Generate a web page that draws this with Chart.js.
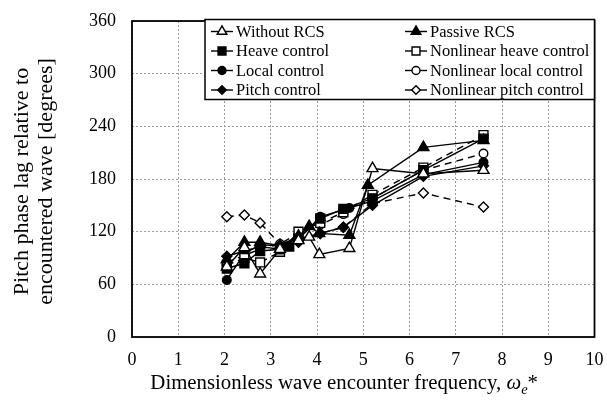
<!DOCTYPE html>
<html lang="en">
  <head>
    <meta charset="UTF-8" />
    <title>Pitch phase lag</title>
    <style>
      html, body { margin: 0; padding: 0; background: #fff; }
      .container { position: relative; width: 607px; height: 407px; }
    </style>
    <script src="https://cdn.jsdelivr.net/npm/chart.js"></script>
  </head>
  <body>
    <div class="container">
      <canvas id="chart" width="607" height="407"></canvas>
    </div>
    <script>
      // encounter frequency (x) and pitch phase lag in degrees (y)
      const xWithout = [2.05, 2.43, 2.77, 3.2, 3.6, 3.83, 4.05, 4.7, 5.2, 6.3, 7.6];
      const yWithout = [80, 102, 72, 100, 110, 114, 94, 101, 192, 186, 190];
      const xPassive = [2.05, 2.43, 2.77, 3.2, 3.6, 3.83, 4.05, 4.7, 5.1, 6.3, 7.6];
      const yPassive = [88, 108, 108, 104, 115, 126, 118, 116, 173, 216, 224];
      const xHeave = [2.05, 2.43, 2.77, 3.2, 3.4, 3.6, 4.07, 4.57, 5.2, 6.3, 7.6];
      const yHeave = [78, 84, 98, 100, 103, 112, 135, 146, 158, 190, 226];
      const xNlHeave = [2.05, 2.43, 2.77, 3.2, 3.6, 4.07, 4.57, 5.2, 6.3, 7.6];
      const yNlHeave = [82, 90, 85, 97, 120, 130, 142, 162, 193, 230];
      const xLocal = [2.05, 2.43, 2.77, 3.2, 3.6, 4.07, 4.7, 5.2, 6.3, 7.6];
      const yLocal = [65, 95, 105, 104, 112, 137, 147, 155, 185, 199];
      const xNlLocal = [2.05, 2.43, 2.77, 3.2, 3.6, 4.07, 4.57, 5.2, 6.3, 7.6];
      const yNlLocal = [85, 93, 100, 106, 118, 128, 140, 158, 190, 209];
      const xPitch = [2.05, 2.43, 2.77, 3.2, 3.6, 4.07, 4.57, 5.2, 6.3, 7.6];
      const yPitch = [92, 98, 103, 100, 108, 118, 125, 150, 183, 195];
      const xNlPitch = [2.05, 2.43, 2.77, 3.2, 3.6, 4.07, 4.57, 5.2, 6.3, 7.6];
      const yNlPitch = [137, 139, 130, 106, 112, 118, 125, 152, 164, 148];

      const xTicks = [0, 1, 2, 3, 4, 5, 6, 7, 8, 9, 10];
      const yTicks = [0, 60, 120, 180, 240, 300, 360];

      const seriesNames = [
        "Without RCS", "Passive RCS",
        "Heave control", "Nonlinear heave control",
        "Local control", "Nonlinear local control",
        "Pitch control", "Nonlinear pitch control"
      ];
      const seriesX = [xWithout, xPassive, xHeave, xNlHeave, xLocal, xNlLocal, xPitch, xNlPitch];
      const seriesY = [yWithout, yPassive, yHeave, yNlHeave, yLocal, yNlLocal, yPitch, yNlPitch];
      // marker shape, filled?, dashed line?
      const seriesShape = ["triangle", "triangle", "rect", "rect", "circle", "circle", "rectRot", "rectRot"];
      const seriesFilled = [false, true, true, false, true, false, true, false];
      const seriesDashed = [false, false, false, true, false, true, false, true];
      const shapeRadius = { triangle: 6.3, rect: 6.3, circle: 4.3, rectRot: 5 };

      const FONT = '"Liberation Serif", "Times New Roman", serif';

      const datasets = seriesNames.map((name, i) => ({
        label: name,
        data: seriesX[i].map((x, j) => ({ x: x, y: seriesY[i][j] })),
        showLine: true,
        borderColor: "#000",
        borderWidth: 1.4,
        borderDash: seriesDashed[i] ? [7, 5] : [],
        pointStyle: seriesShape[i],
        pointRadius: shapeRadius[seriesShape[i]],
        pointBorderWidth: 1.4,
        pointBorderColor: "#000",
        pointBackgroundColor: seriesFilled[i] ? "#000" : "#fff",
        tension: 0
      }));

      // own marker drawing for the legend box
      function drawMarker(ctx, shape, x, y, r, filled) {
        ctx.save();
        ctx.setLineDash([]);
        ctx.lineWidth = 1.4;
        ctx.strokeStyle = "#000";
        ctx.fillStyle = filled ? "#000" : "#fff";
        ctx.beginPath();
        if (shape === "triangle") {
          ctx.moveTo(x, y - r);
          ctx.lineTo(x + r * 0.866, y + r * 0.5);
          ctx.lineTo(x - r * 0.866, y + r * 0.5);
          ctx.closePath();
        } else if (shape === "rect") {
          const s = r * Math.SQRT1_2;
          ctx.rect(x - s, y - s, 2 * s, 2 * s);
        } else if (shape === "circle") {
          ctx.arc(x, y, r, 0, Math.PI * 2);
        } else {
          ctx.moveTo(x - r, y);
          ctx.lineTo(x, y - r);
          ctx.lineTo(x + r, y);
          ctx.lineTo(x, y + r);
          ctx.closePath();
        }
        ctx.fill();
        ctx.stroke();
        ctx.restore();
      }

      // no automatic label padding, the layout padding decides the plot box
      const noLabelPadding = (s) => {
        s.paddingLeft = 0;
        s.paddingRight = 0;
        s.paddingTop = 0;
        s.paddingBottom = 0;
      };

      const decorPlugin = {
        id: "decor",
        afterDraw(chart) {
          const ctx = chart.ctx;
          const a = chart.chartArea;
          ctx.save();

          // plot frame
          ctx.setLineDash([]);
          ctx.strokeStyle = "#000";
          ctx.lineWidth = 1.8;
          ctx.strokeRect(a.left, a.top, a.right - a.left, a.bottom - a.top);

          // legend box in the top right corner
          const bx = 205, by = a.top - 1.5, bw = a.right - 205, bh = 80;
          ctx.fillStyle = "#fff";
          ctx.fillRect(bx, by, bw, bh);
          ctx.lineWidth = 1.5;
          ctx.strokeRect(bx, by, bw, bh);
          const colX = [211, 405];
          const rowY = [31.5, 51, 70.5, 90];
          ctx.font = "16.5px " + FONT;
          ctx.textBaseline = "middle";
          ctx.textAlign = "left";
          seriesNames.forEach((name, i) => {
            const lx = colX[i % 2];
            const ly = rowY[Math.floor(i / 2)];
            ctx.beginPath();
            ctx.setLineDash([]);
            ctx.lineWidth = 1.4;
            ctx.strokeStyle = "#000";
            ctx.moveTo(lx, ly);
            ctx.lineTo(lx + 22, ly);
            ctx.stroke();
            const shape = seriesShape[i];
            const r = shape === "circle" ? 4 : shape === "rectRot" ? 4.3 : 5.6;
            drawMarker(ctx, shape, lx + 11, ly, r, seriesFilled[i]);
            ctx.fillStyle = "#000";
            ctx.fillText(name, lx + 25, ly + 1);
          });

          // y axis title, two lines
          ctx.fillStyle = "#000";
          ctx.font = "22px " + FONT;
          ctx.textAlign = "center";
          ctx.textBaseline = "alphabetic";
          const yLines = ["Pitch phase lag relative to", "encountered wave [degrees]"];
          const yBase = [27.5, 51.5];
          yLines.forEach((t, i) => {
            ctx.save();
            ctx.translate(yBase[i], 181.5);
            ctx.rotate(-Math.PI / 2);
            ctx.fillText(t, 0, 0);
            ctx.restore();
          });

          // x axis title with omega_e*
          const main = "Dimensionless wave encounter frequency, ";
          const fMain = "20.8px " + FONT;
          const fIt = "italic 20.8px " + FONT;
          const fSub = "italic 14.5px " + FONT;
          ctx.textAlign = "left";
          ctx.font = fMain; const w1 = ctx.measureText(main).width;
          ctx.font = fIt; const w2 = ctx.measureText("\u03c9").width;
          ctx.font = fSub; const w3 = ctx.measureText("e").width;
          ctx.font = fMain; const w4 = ctx.measureText("*").width;
          let tx = 538 - (w1 + w2 + w3 + w4);
          const ty = 389;
          ctx.font = fMain; ctx.fillText(main, tx, ty); tx += w1;
          ctx.font = fIt; ctx.fillText("\u03c9", tx, ty); tx += w2;
          ctx.font = fSub; ctx.fillText("e", tx, ty + 5); tx += w3;
          ctx.font = fMain; ctx.fillText("*", tx, ty);

          ctx.restore();
        }
      };

      new Chart(document.getElementById("chart"), {
        type: "scatter",
        data: { datasets: datasets },
        options: {
          responsive: false,
          animation: false,
          layout: { padding: { top: 21, right: 12.5, left: 0, bottom: 0 } },
          plugins: {
            legend: { display: false },
            tooltip: { enabled: false }
          },
          scales: {
            x: {
              type: "linear",
              min: xTicks[0],
              max: xTicks[xTicks.length - 1],
              afterBuildTicks: (s) => { s.ticks = xTicks.map((v) => ({ value: v })); },
              afterFit: (s) => { s.height = 70; noLabelPadding(s); },
              ticks: { color: "#000", font: { family: FONT, size: 18 }, padding: 12, maxRotation: 0 },
              grid: { color: "#9a9a9a", lineWidth: 1, drawTicks: false },
              border: { display: false, dash: [2, 2] }
            },
            y: {
              type: "linear",
              min: yTicks[0],
              max: yTicks[yTicks.length - 1],
              afterBuildTicks: (s) => { s.ticks = yTicks.map((v) => ({ value: v })); },
              afterFit: (s) => { s.width = 132; noLabelPadding(s); },
              ticks: { color: "#000", font: { family: FONT, size: 18 }, padding: 16 },
              grid: { color: "#9a9a9a", lineWidth: 1, drawTicks: false },
              border: { display: false, dash: [2, 2] }
            }
          }
        },
        plugins: [decorPlugin]
      });
    </script>
  </body>
</html>
